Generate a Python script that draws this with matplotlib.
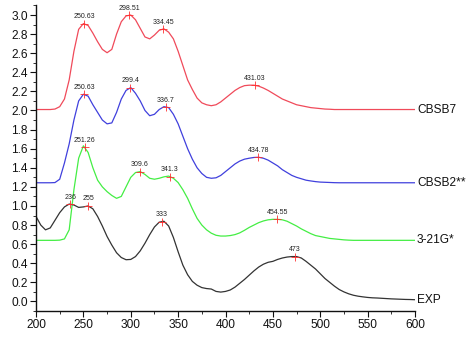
import matplotlib
matplotlib.use("Agg")
import matplotlib.pyplot as plt
import numpy as np
from matplotlib.ticker import MultipleLocator

plt.rcParams['font.family'] = ['Liberation Sans', 'DejaVu Sans']

wavelength = list(range(200, 605, 5))

cbsb7 = [2.01, 2.01, 2.01, 2.01, 2.015, 2.04, 2.12, 2.32, 2.62, 2.85,
         2.91, 2.89, 2.81, 2.72, 2.64, 2.605, 2.64, 2.80, 2.93, 2.99,
         3.00, 2.95, 2.86, 2.77, 2.75, 2.79, 2.84, 2.855, 2.82, 2.75,
         2.62, 2.47, 2.32, 2.22, 2.13, 2.08, 2.06, 2.05, 2.06, 2.09,
         2.13, 2.17, 2.21, 2.24, 2.26, 2.265, 2.265, 2.255, 2.235, 2.21,
         2.18, 2.15, 2.12, 2.10, 2.08, 2.06, 2.05, 2.04, 2.03, 2.025,
         2.02, 2.015, 2.013, 2.01, 2.01, 2.01, 2.01, 2.01, 2.01, 2.01,
         2.01, 2.01, 2.01, 2.01, 2.01, 2.01, 2.01, 2.01, 2.01, 2.01, 2.01]

cbsb2 = [1.243, 1.243, 1.243, 1.243, 1.245, 1.28, 1.45, 1.65, 1.90, 2.10,
         2.17, 2.15, 2.06, 1.98, 1.90, 1.86, 1.87, 1.98, 2.12, 2.21,
         2.24, 2.18, 2.10, 2.00, 1.945, 1.96, 2.01, 2.04, 2.03, 1.96,
         1.86, 1.73, 1.60, 1.49, 1.40, 1.34, 1.30, 1.29, 1.295, 1.32,
         1.36, 1.40, 1.44, 1.47, 1.49, 1.50, 1.508, 1.51, 1.50, 1.48,
         1.45, 1.42, 1.38, 1.35, 1.32, 1.30, 1.285, 1.27, 1.262, 1.255,
         1.25, 1.248, 1.246, 1.244, 1.243, 1.243, 1.243, 1.243, 1.243, 1.243,
         1.243, 1.243, 1.243, 1.243, 1.243, 1.243, 1.243, 1.243, 1.243, 1.243, 1.243]

g321 = [0.64, 0.64, 0.64, 0.64, 0.64, 0.642, 0.655, 0.75, 1.17, 1.50,
        1.63, 1.56, 1.40, 1.27, 1.20, 1.15, 1.11, 1.08, 1.10, 1.20,
        1.30, 1.35, 1.36, 1.33, 1.29, 1.28, 1.29, 1.305, 1.313, 1.29,
        1.245, 1.17, 1.08, 0.97, 0.87, 0.80, 0.75, 0.715, 0.693, 0.685,
        0.685, 0.69, 0.70, 0.718, 0.745, 0.775, 0.80, 0.825, 0.843, 0.855,
        0.86, 0.86, 0.855, 0.84, 0.815, 0.79, 0.76, 0.735, 0.71, 0.69,
        0.68, 0.67, 0.66, 0.655, 0.65, 0.645, 0.642, 0.64, 0.64, 0.64,
        0.64, 0.64, 0.64, 0.64, 0.64, 0.64, 0.64, 0.64, 0.64, 0.64, 0.64]

exp = [0.89, 0.80, 0.75, 0.77, 0.85, 0.93, 0.99, 1.02, 1.01, 0.985,
       0.99, 1.00, 0.97, 0.89, 0.79, 0.68, 0.59, 0.51, 0.46, 0.437,
       0.44, 0.47, 0.53, 0.61, 0.70, 0.78, 0.83, 0.84, 0.79, 0.67,
       0.52, 0.38, 0.28, 0.21, 0.17, 0.145, 0.135, 0.13, 0.105, 0.098,
       0.105, 0.12, 0.15, 0.19, 0.23, 0.275, 0.32, 0.36, 0.39, 0.41,
       0.42, 0.44, 0.455, 0.465, 0.47, 0.47, 0.455, 0.42, 0.38, 0.34,
       0.29, 0.24, 0.20, 0.16, 0.125, 0.10, 0.08, 0.065, 0.055, 0.048,
       0.042, 0.038, 0.036, 0.033, 0.03, 0.027, 0.025, 0.023, 0.021, 0.02, 0.018]

series_names = ["CBSB7", "CBSB2**", "3-21G*", "EXP"]
peaks_cbsb7 = [250.63, 298.51, 334.45, 431.03]
peaks_cbsb2 = [250.63, 299.4, 336.7, 434.78]
peaks_g321 = [251.26, 309.6, 341.3, 454.55]
peaks_exp = [236, 255, 333, 473]
peak_labels_cbsb7 = ["250.63", "298.51", "334.45", "431.03"]
peak_labels_cbsb2 = ["250.63", "299.4", "336.7", "434.78"]
peak_labels_g321 = ["251.26", "309.6", "341.3", "454.55"]
peak_labels_exp = ["236", "255", "333", "473"]

fig = plt.figure(figsize=(4.74, 3.41), dpi=100)
ax = fig.add_axes([0.076, 0.088, 0.7995, 0.896])

curves = [
    (cbsb7, "#f04a5a", peaks_cbsb7, peak_labels_cbsb7),
    (cbsb2, "#4040dd", peaks_cbsb2, peak_labels_cbsb2),
    (g321, "#44ee44", peaks_g321, peak_labels_g321),
    (exp, "#333333", peaks_exp, peak_labels_exp),
]

x = np.array(wavelength, dtype=float)
for (vals, col, pk, pl), name in zip(curves, series_names):
    y = np.array(vals)
    ax.plot(x, y, color=col, lw=0.9, solid_joinstyle='round')
    py = np.interp(pk, x, y)
    ax.plot(pk, py, linestyle='none', marker='+', color='#ff3030',
            markersize=6, markeredgewidth=0.6)
    for px_, py_, lab in zip(pk, py, pl):
        ax.annotate(lab, (px_, py_), xytext=(0, 2.5), textcoords='offset points',
                    ha='center', va='bottom', fontsize=5, color='#222222')
    ax.annotate(name, (x[-1], y[-1]), xytext=(1.5, 0), textcoords='offset points',
                ha='left', va='center', fontsize=8.6, color='#111111',
                annotation_clip=False)

ax.set_xlim(200, 600)
ax.set_ylim(-0.1, 3.1)
ax.set_xticks([200, 250, 300, 350, 400, 450, 500, 550, 600])
ax.set_yticks([0.0, 0.2, 0.4, 0.6, 0.8, 1.0, 1.2, 1.4, 1.6, 1.8, 2.0, 2.2, 2.4, 2.6, 2.8, 3.0])
ax.yaxis.set_major_formatter(matplotlib.ticker.FormatStrFormatter('%.1f'))
ax.xaxis.set_minor_locator(MultipleLocator(25))
ax.yaxis.set_minor_locator(MultipleLocator(0.1))
ax.spines['top'].set_visible(False)
ax.spines['right'].set_visible(False)
for s in ['left', 'bottom']:
    ax.spines[s].set_linewidth(1.0)
    ax.spines[s].set_color('#111111')
ax.tick_params(axis='both', which='major', direction='out', length=4, width=0.8,
               labelsize=8.6, pad=2, colors='#111111')
ax.tick_params(axis='both', which='minor', direction='out', length=2, width=0.6,
               colors='#111111')

fig.savefig("out.png", dpi=100)
